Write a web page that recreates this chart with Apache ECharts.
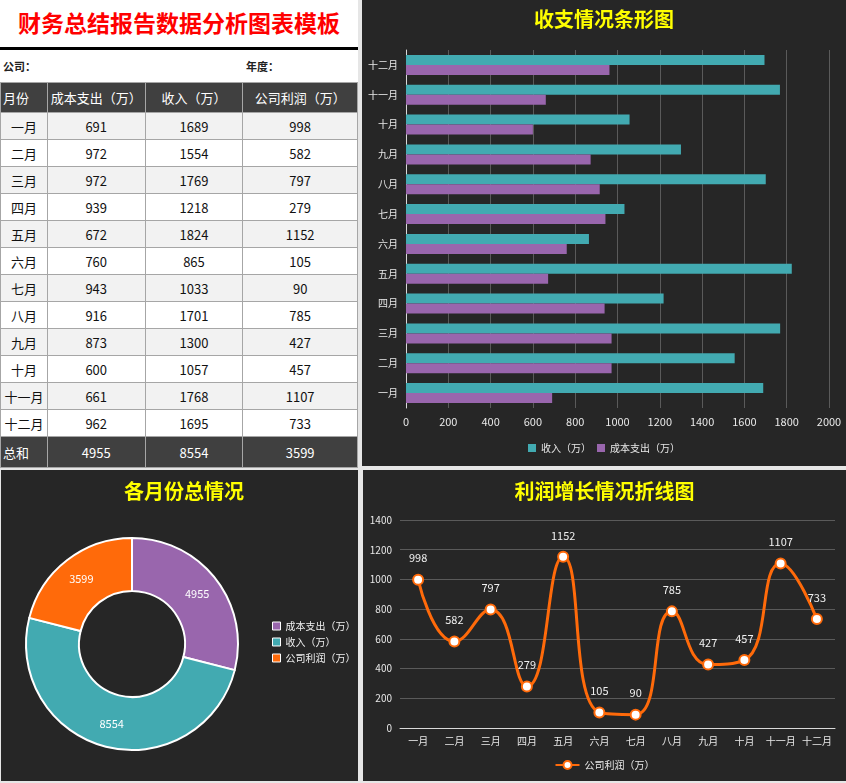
<!DOCTYPE html>
<html><head><meta charset="utf-8">
<script src="https://cdn.jsdelivr.net/npm/echarts@6/dist/echarts.min.js"></script>
<style>
html,body{margin:0;padding:0;width:846px;height:783px;background:#e6e6e6;overflow:hidden;font-family:"Noto Sans CJK SC","Microsoft YaHei",sans-serif;}
.panel{position:absolute;background:#262626;}
#tbl{position:absolute;left:0;top:0;width:358px;height:467px;background:#fff;}
#title{position:absolute;left:0;top:6px;width:358px;text-align:center;color:#ff0000;font-weight:bold;font-size:23px;line-height:32px;letter-spacing:0px;}
#rule{position:absolute;left:0;top:47px;width:358px;height:3px;background:#000;}
.meta{position:absolute;top:58px;font-size:11px;font-weight:bold;color:#222;line-height:16px;}
table{position:absolute;left:0;top:82px;border-collapse:collapse;table-layout:fixed;}
td{border:1px solid #a6a6a6;font-size:13px;text-align:center;padding:0;color:#111;height:26px;}
tr.hd td,tr.ft td{background:#404040;color:#fff;}
tr.hd td{height:29px;}
tr.ft td{height:30px;}
tr.g td{background:#f2f2f2;}
td.l{text-align:left;padding-left:2px;}
</style></head>
<body>
<div id="tbl">
  <div id="title">财务总结报告数据分析图表模板</div>
  <div id="rule"></div>
  <div class="meta" style="left:3px">公司：</div>
  <div class="meta" style="left:246px">年度：</div>
  <table id="t"></table>
</div>
<div class="panel" id="bar" style="left:362px;top:0;width:484px;height:466px;"></div>
<div class="panel" id="pie" style="left:1px;top:470px;width:357px;height:311px;"></div>
<div class="panel" id="line" style="left:363px;top:470px;width:483px;height:311px;"></div>
<script>
const months = ['一月','二月','三月','四月','五月','六月','七月','八月','九月','十月','十一月','十二月'];
const cost   = [691,972,972,939,672,760,943,916,873,600,661,962];
const income = [1689,1554,1769,1218,1824,865,1033,1701,1300,1057,1768,1695];
const profit = [998,582,797,279,1152,105,90,785,427,457,1107,733];
const headers = ['月份','成本支出（万）','收入（万）','公司利润（万）'];
const totals = [4955,8554,3599];
const pieNames = ['成本支出（万）','收入（万）','公司利润（万）'];
const colCost='#9966ad', colInc='#42aab1', colProf='#ff6a0a';

// table
const colW=[47,98,98,115];
let h='<colgroup>'+colW.map(w=>'<col style="width:'+w+'px">').join('')+'</colgroup>';
h+='<tr class="hd">'+headers.map((t,i)=>'<td'+(i==0?' class="l"':'')+'>'+t+'</td>').join('')+'</tr>';
months.forEach((m,i)=>{
  h+='<tr class="'+(i%2==0?'g':'')+'"><td>'+m+'</td><td>'+cost[i]+'</td><td>'+income[i]+'</td><td>'+profit[i]+'</td></tr>';
});
h+='<tr class="ft"><td class="l">总和</td>'+totals.map(v=>'<td>'+v+'</td>').join('')+'</tr>';
document.getElementById('t').innerHTML=h;

const FF='"Noto Sans CJK SC","Microsoft YaHei",sans-serif';
const titleStyle={color:'#ffff00',fontSize:20,fontWeight:'bold',fontFamily:FF};
const lbl='#e8e8e8';
const plain=v=>String(v);

const bar=echarts.init(document.getElementById('bar'));
bar.setOption({
  animation:false,
  textStyle:{fontFamily:FF},
  title:{text:'收支情况条形图',left:'center',top:4,textStyle:titleStyle},
  legend:{bottom:8,icon:'rect',itemWidth:8,itemHeight:8,itemGap:6,textStyle:{color:lbl,fontSize:10},data:['收入（万）','成本支出（万）']},
  grid:{left:44,right:17,top:50,bottom:58},
  xAxis:{type:'value',min:0,max:2000,interval:200,axisLine:{show:false},axisTick:{show:false},
    axisLabel:{color:lbl,fontSize:11,formatter:plain},splitLine:{lineStyle:{color:'#5a5a5a',width:1}}},
  yAxis:{type:'category',data:months,axisLine:{lineStyle:{color:'#d9d9d9'}},axisTick:{show:false},
    axisLabel:{color:lbl,fontSize:10}},
  series:[
    {name:'收入（万）',type:'bar',data:income,barWidth:10,barGap:'0%',itemStyle:{color:colInc}},
    {name:'成本支出（万）',type:'bar',data:cost,barWidth:10,itemStyle:{color:colCost}}
  ]
});

const pie=echarts.init(document.getElementById('pie'));
pie.setOption({
  animation:false,
  textStyle:{fontFamily:FF},
  title:{text:'各月份总情况',left:118,top:6,textStyle:titleStyle},
  legend:{orient:'vertical',left:266,top:146,icon:'rect',itemWidth:8,itemHeight:8,itemGap:6,
    textStyle:{color:'#f0f0f0',fontSize:10},
    itemStyle:{borderColor:'#fff',borderWidth:1}},
  series:[{type:'pie',center:[131,174],radius:[53,106],startAngle:90,clockwise:true,
    label:{position:'inside',color:'#fff',fontSize:11,formatter:'{c}'},labelLine:{show:false},
    itemStyle:{borderColor:'#fff',borderWidth:2},
    data:pieNames.map((n,i)=>({name:n,value:totals[i],itemStyle:{color:[colCost,colInc,colProf][i]}}))}]
});

const line=echarts.init(document.getElementById('line'));
line.setOption({
  animation:false,
  textStyle:{fontFamily:FF},
  title:{text:'利润增长情况折线图',left:'center',top:6,textStyle:titleStyle},
  legend:{bottom:6,itemWidth:24,itemHeight:10,textStyle:{color:lbl,fontSize:10}},
  grid:{left:37,right:11,top:50,bottom:53},
  xAxis:{type:'category',data:months,boundaryGap:true,axisLine:{lineStyle:{color:'#d9d9d9'}},axisTick:{show:false},
    axisLabel:{color:lbl,fontSize:10,interval:0}},
  yAxis:{type:'value',min:0,max:1400,interval:200,axisLine:{show:false},axisTick:{show:false},
    axisLabel:{color:lbl,fontSize:10,formatter:plain},splitLine:{lineStyle:{color:'#5a5a5a'}}},
  series:[{name:'公司利润（万）',type:'line',data:profit,smooth:0.5,symbol:'circle',symbolSize:10,
    lineStyle:{color:colProf,width:3},
    itemStyle:{color:'#fff',borderColor:colProf,borderWidth:2},
    label:{show:true,position:'top',color:'#f0f0f0',fontSize:11,distance:10}}]
});
</script>
</body></html>
